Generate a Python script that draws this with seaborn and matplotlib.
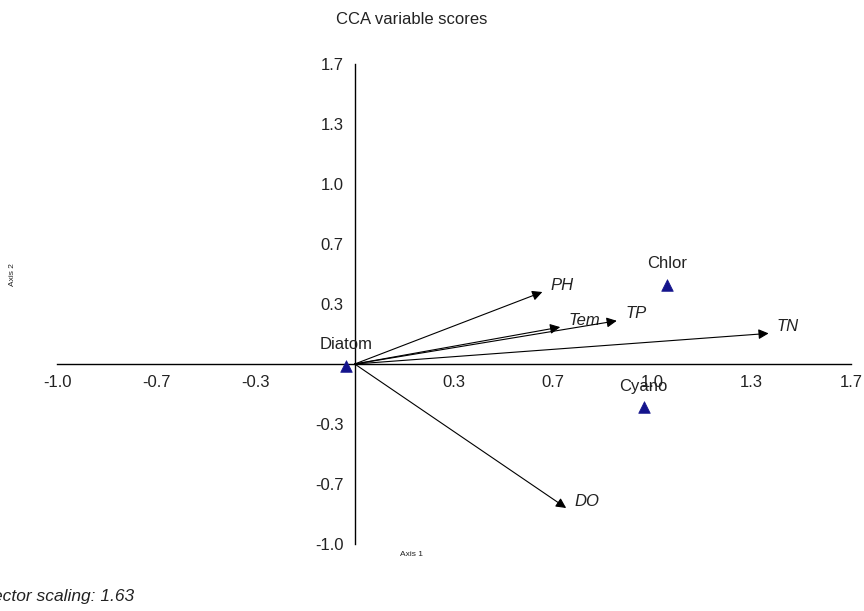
import matplotlib
matplotlib.use("Agg")
import matplotlib.pyplot as plt
import seaborn as sns
import pandas as pd

# ---- data ----
species = ["Diatom", "Chlor", "Cyano"]
species_x = [-0.03, 1.05, 0.97]
species_y = [-0.01, 0.44, -0.24]

variables = ["PH", "Tem", "TP", "TN", "DO"]
var_x = [0.63, 0.69, 0.88, 1.39, 0.71]
var_y = [0.40, 0.205, 0.24, 0.17, -0.80]

tick_vals = [-1.0, -2/3, -1/3, 1/3, 2/3, 1.0, 4/3, 5/3]
tick_labels = ["-1.0", "-0.7", "-0.3", "0.3", "0.7", "1.0", "1.3", "1.7"]

title = "CCA variable scores"
x_label = "Axis 1"
y_label = "Axis 2"
footer = "Vector scaling: 1.63"

sns.set_style("white")
plt.rcParams["font.family"] = ["Liberation Sans", "DejaVu Sans"]

fig = plt.figure(figsize=(8.64, 6.11), dpi=100)
ax = fig.add_axes([57/864, 67/611, 794/864, 480/611])

sp_df = pd.DataFrame({"name": species, "x": species_x, "y": species_y})
sns.scatterplot(data=sp_df, x="x", y="y", marker="^", s=70, color="#14148c",
                edgecolor="#14148c", linewidth=0.5, ax=ax, zorder=5, legend=False)
for n, x, y in zip(species, species_x, species_y):
    ax.annotate(n, (x, y), xytext=(0, 15), textcoords="offset points",
                ha="center", va="center", fontsize=12, color="#222222")

for n, x, y in zip(variables, var_x, var_y):
    ax.annotate("", xy=(x, y), xytext=(0, 0),
                arrowprops=dict(arrowstyle="-|>", color="black", lw=0.8,
                                mutation_scale=15, shrinkA=0, shrinkB=0))
    ax.annotate(n, (x, y), xytext=(6, 5), textcoords="offset points",
                ha="left", va="center", fontsize=12, style="italic",
                color="#222222")

ax.set_xlim(-1.0, 5/3)
ax.set_ylim(-1.0, 5/3)
for s in ["top", "right"]:
    ax.spines[s].set_visible(False)
ax.spines["left"].set_position(("data", 0))
ax.spines["bottom"].set_position(("data", 0))
for s in ["left", "bottom"]:
    ax.spines[s].set_linewidth(1.0)
    ax.spines[s].set_color("black")
ax.set_xticks(tick_vals)
ax.set_xticklabels(tick_labels)
ax.set_yticks(tick_vals)
ax.set_yticklabels(tick_labels)
ax.tick_params(axis="both", direction="inout", length=12, width=1.0,
               labelsize=12, colors="black", labelcolor="#222222")
ax.tick_params(axis="x", pad=2)
ax.tick_params(axis="y", pad=2)
ax.set_xlabel("")
ax.set_ylabel("")
ax.patch.set_alpha(0)

fig.text(412/864, 1 - 20/611, title, ha="center", va="center", fontsize=12, color="#222222")
fig.text(412/864, 1 - 555/611, x_label, ha="center", va="center", fontsize=6, color="#222222")
fig.text(12/864, 1 - 275/611, y_label, ha="center", va="center", fontsize=6,
         rotation=90, color="#222222")
fig.text(134/864, 1 - 597/611, footer, ha="right", va="center", fontsize=12.5,
         style="italic", color="#222222")

fig.savefig("out.png", dpi=100)
